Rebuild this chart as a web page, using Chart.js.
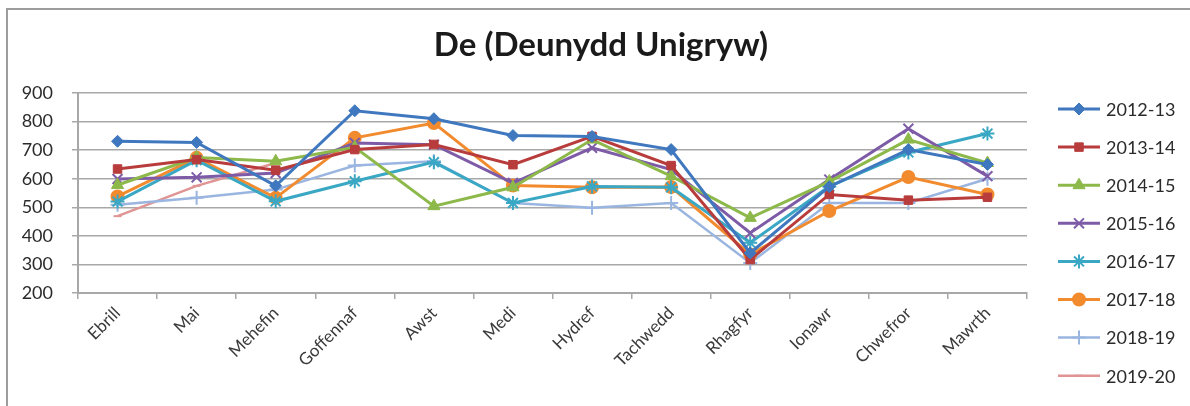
<!DOCTYPE html>
<html>
<head>
<meta charset="utf-8">
<script src="https://cdn.jsdelivr.net/npm/chart.js@4.4.1/dist/chart.umd.min.js"></script>
<style>
  html, body { margin:0; padding:0; background:#fff; overflow:hidden; }
  #wrap { position:relative; width:1190px; height:406px; }
  #frame { position:absolute; left:6px; top:8px; width:1200px; height:420px; border-left:2px solid #9c9c9c; border-top:2px solid #9c9c9c; }
  #c { position:absolute; left:0; top:0; }
</style>
</head>
<body>
<div id="wrap">
  <div id="frame"></div>
  <canvas id="c" width="1190" height="406"></canvas>
</div>
<script>
// ========= DATOS =========
const chartTitle = 'De (Deunydd Unigryw)';
const months = ['Ebrill','Mai','Mehefin','Goffennaf','Awst','Medi','Hydref','Tachwedd','Rhagfyr','Ionawr','Chwefror','Mawrth'];
const seriesNames = ['2012-13','2013-14','2014-15','2015-16','2016-17','2017-18','2018-19','2019-20'];

const v1213 = [731, 727, 575, 838, 810, 751, 748, 702, 340, 572, 702, 650];
const v1314 = [634, 667, 630, 702, 720, 649, 748, 646, 317, 545, 525, 535];
const v1415 = [578, 674, 661, 710, 504, 570, 737, 609, 463, 590, 737, 655];
const v1516 = [599, 605, 620, 725, 719, 585, 708, 632, 410, 597, 775, 609];
const v1617 = [520, 665, 521, 591, 658, 515, 573, 570, 376, 573, 692, 758];
const v1718 = [538, 673, 533, 743, 795, 576, 570, 571, 335, 487, 606, 545];
const v1819 = [509, 533, 562, 646, 661, 515, 498, 515, 305, 515, 515, 600];
const v1920 = [469, 575, 655, null, null, null, null, null, null, null, null, null];

const yTicks = [200, 300, 400, 500, 600, 700, 800, 900];

const colors = ['#3f78be','#b83c3c','#8db84a','#7d5ba6','#3aa7c4','#f28a2e','#9ab6e0','#e09494'];
const markers = ['rectRot','rect','triangle','crossRot','star','circle','cross','line'];
const markerSize = [6, 6, 7, 7, 7, 6, 7, 4];

const allValues = [v1213, v1314, v1415, v1516, v1617, v1718, v1819, v1920];

const FONT = 'Lato, "Open Sans", sans-serif';

const datasets = allValues.map((vals, i) => ({
    label: seriesNames[i],
    data: vals,
    borderColor: colors[i],
    backgroundColor: colors[i],
    pointBackgroundColor: colors[i],
    pointBorderColor: colors[i],
    pointStyle: markers[i],
    pointRadius: markerSize[i],
    pointBorderWidth: (i >= 3) ? 2 : 1,
    borderWidth: (i >= 6) ? 2.5 : 3,
    tension: 0,
    spanGaps: false
}));

// ========= TÍTULO + LEYENDA (dibujados en canvas) =========
const titleAndLegend = {
    id: 'titleAndLegend',
    afterDraw(chart){
        const ctx = chart.ctx;
        ctx.save();
        // título centrado sobre todo el gráfico
        ctx.fillStyle = '#1a1a1a';
        ctx.font = 'bold 33px ' + FONT;
        ctx.textAlign = 'center';
        ctx.textBaseline = 'middle';
        ctx.fillText(chartTitle, 601, 45);

        const x0 = 1058, x1 = 1100, tx = 1106;
        const y0 = 109, step = 38.1;
        chart.data.datasets.forEach((ds, i) => {
            const y = y0 + i*step;
            ctx.strokeStyle = ds.borderColor;
            ctx.lineWidth = ds.borderWidth;
            ctx.beginPath(); ctx.moveTo(x0, y); ctx.lineTo(x1, y); ctx.stroke();
            ctx.fillStyle = ds.pointBackgroundColor;
            ctx.strokeStyle = ds.pointBorderColor;
            ctx.lineWidth = ds.pointBorderWidth;
            if (Chart.helpers && Chart.helpers.drawPoint) {
                Chart.helpers.drawPoint(ctx, {pointStyle: ds.pointStyle, radius: ds.pointRadius, borderWidth: ds.pointBorderWidth, rotation: 0}, (x0+x1)/2, y);
            }
            ctx.fillStyle = '#2b2b2b';
            ctx.font = '18px ' + FONT;
            ctx.textAlign = 'left';
            ctx.textBaseline = 'middle';
            ctx.fillText(ds.label, tx, y + 1);
        });
        ctx.restore();
    }
};

new Chart(document.getElementById('c').getContext('2d'), {
    type: 'line',
    data: { labels: months, datasets },
    options: {
        responsive: false,
        animation: false,
        layout: { padding: { left: 22, right: 163, top: 93, bottom: 0 } },
        plugins: {
            legend: { display: false },
            tooltip: { enabled: false },
            title: { display: false }
        },
        scales: {
            x: {
                offset: true,
                grid: { offset: true, drawOnChartArea: false, drawTicks: true, tickLength: 6, color: '#a8a8a8', lineWidth: 1.5 },
                border: { color: '#a8a8a8', width: 2 },
                ticks: {
                    autoSkip: false, maxRotation: 45, minRotation: 45, padding: 4,
                    color: '#3a3a3a', font: { family: FONT, size: 17 }
                },
                afterFit: s => { s.height = 113; }
            },
            y: {
                min: 200, max: 900,
                afterBuildTicks: s => { s.ticks = yTicks.map(v => ({ value: v })); },
                grid: { color: '#a8a8a8', lineWidth: 1.5, tickLength: 6 },
                border: { color: '#a8a8a8', width: 2 },
                ticks: { padding: 19, color: '#2b2b2b', font: { family: FONT, size: 18 } },
                afterFit: s => { s.width = 56; }
            }
        }
    },
    plugins: [titleAndLegend]
});
</script>
</body>
</html>
